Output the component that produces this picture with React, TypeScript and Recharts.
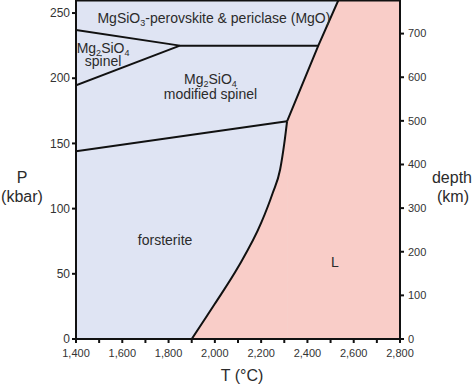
import React from 'react';
import {
  ComposedChart,
  XAxis,
  YAxis,
  Area,
  Line,
  ReferenceArea,
  ReferenceLine,
  ReferenceDot,
  Label,
} from 'recharts';

// ---- data ----
const tTicks = [1400, 1500, 1600, 1700, 1800, 1900, 2000, 2100, 2200, 2300, 2400, 2500, 2600, 2700, 2800];
const pTicks = [0, 50, 100, 150, 200, 250];
const depthTicks = [0, 100, 200, 300, 400, 500, 600, 700];

// melting curve (solid / liquid boundary), lower curved part
const meltLowT = [1900, 2000, 2100, 2200, 2250, 2282, 2300, 2312];
const meltLowP = [0, 27, 55, 89, 112, 130, 150, 167];
// melting curve, upper straight part
const meltHighT = [2312, 2447, 2534];
const meltHighP = [167, 225, 260];

// forsterite / modified spinel boundary
const foT = [1400, 2312];
const foP = [144, 167];

// spinel wedge boundaries
const spUpperT = [1400, 1849];
const spUpperP = [237, 225];
const spLowerT = [1400, 1849];
const spLowerP = [194.5, 225];

// perovskite + periclase boundary
const pvT = [1849, 2447];
const pvP = [225, 225];

const T_MIN = 1400;
const T_MAX = 2800;
const P_MAX = 260;
const DEPTH_MAX = 777;

const toPts = (ts: number[], ps: number[]) => ts.map((t, i) => ({ t, p: ps[i] }));

const liquidLow = toPts(meltLowT, meltLowP);
const liquidHigh = [...toPts(meltHighT, meltHighP), { t: T_MAX, p: P_MAX }];

const FONT = '"Liberation Sans", Arial, Helvetica, sans-serif';
const BLUE = '#dfe4f3';
const PINK = '#f9cdc8';
const TEXT = '#2b2b2b';

const regionText = (content: React.ReactNode) => (props: any) => (
  <text
    x={props.cx}
    y={props.cy}
    textAnchor="middle"
    fontFamily={FONT}
    fontSize={14}
    fill={TEXT}
  >
    {content}
  </text>
);

const Sub = ({ c }: { c: string }) => (
  <tspan fontSize={9} dy={3}>{c}</tspan>
);
const Up = ({ children }: { children: React.ReactNode }) => (
  <tspan dy={-3}>{children}</tspan>
);

const mg2sio4 = (
  <>
    Mg<Sub c="2" /><Up>SiO</Up><Sub c="4" />
  </>
);

const lineProps = {
  dataKey: 'p',
  dot: false,
  activeDot: false,
  stroke: '#111',
  strokeWidth: 2,
  isAnimationActive: false,
  yAxisId: 'left',
};

export default function App() {
  return (
    <div style={{ position: 'absolute', left: 0, top: 0, width: 474, height: 385 }}>
      <ComposedChart
        width={474}
        height={385}
        margin={{ top: 0, right: 0, bottom: 0, left: 0 }}
      >
        <XAxis
          type="number"
          dataKey="t"
          domain={[T_MIN, T_MAX]}
          ticks={tTicks}
          interval={0}
          allowDataOverflow
          tickFormatter={(v: number) => (v % 200 === 0 ? v.toLocaleString('en-US') : '')}
          height={46}
          tickSize={4}
          tickMargin={6}
          axisLine={{ stroke: '#111', strokeWidth: 2 }}
          tickLine={{ stroke: '#111', strokeWidth: 2 }}
          tick={{ fontSize: 11, fill: '#333', fontFamily: FONT }}
        >
          <Label
            content={(props: any) => {
              const vb = props.viewBox || {};
              return (
                <text
                  x={vb.x + 166}
                  y={vb.y + 42}
                  textAnchor="middle"
                  fontFamily={FONT}
                  fontSize={16}
                  fill={TEXT}
                >
                  T (°C)
                </text>
              );
            }}
          />
        </XAxis>
        <YAxis
          yAxisId="left"
          type="number"
          domain={[0, P_MAX]}
          ticks={pTicks}
          interval={0}
          allowDataOverflow
          width={76}
          tickSize={4}
          tickMargin={2}
          axisLine={{ stroke: '#111', strokeWidth: 2 }}
          tickLine={{ stroke: '#111', strokeWidth: 2 }}
          tick={{ fontSize: 12, fill: '#333', fontFamily: FONT }}
        >
          <Label
            content={(props: any) => {
              const vb = props.viewBox || {};
              return (
                <text textAnchor="middle" fontFamily={FONT} fontSize={16} fill={TEXT}>
                  <tspan x={vb.x + 22} y={vb.y + 183}>P</tspan>
                  <tspan x={vb.x + 22} y={vb.y + 202}>(kbar)</tspan>
                </text>
              );
            }}
          />
        </YAxis>
        <YAxis
          yAxisId="right"
          orientation="right"
          type="number"
          domain={[0, DEPTH_MAX]}
          ticks={depthTicks}
          interval={0}
          allowDataOverflow
          width={74}
          tickSize={4}
          tickMargin={4}
          axisLine={{ stroke: '#111', strokeWidth: 2 }}
          tickLine={{ stroke: '#111', strokeWidth: 2 }}
          tick={{ fontSize: 11, fill: '#333', fontFamily: FONT }}
        >
          <Label
            content={(props: any) => {
              const vb = props.viewBox || {};
              return (
                <text textAnchor="middle" fontFamily={FONT} fontSize={16} fill={TEXT}>
                  <tspan x={vb.x + 52} y={vb.y + 183}>depth</tspan>
                  <tspan x={vb.x + 53} y={vb.y + 202}>(km)</tspan>
                </text>
              );
            }}
          />
        </YAxis>

        <ReferenceArea
          yAxisId="left"
          x1={T_MIN}
          x2={T_MAX}
          y1={0}
          y2={P_MAX}
          fill={BLUE}
          fillOpacity={1}
          stroke="none"
          ifOverflow="visible"
        />

        <Area
          data={liquidLow}
          yAxisId="left"
          type="monotone"
          dataKey="p"
          fill={PINK}
          fillOpacity={1}
          stroke={PINK}
          strokeWidth={1}
          isAnimationActive={false}
          activeDot={false}
        />
        <Area
          data={liquidHigh}
          yAxisId="left"
          type="linear"
          dataKey="p"
          fill={PINK}
          fillOpacity={1}
          stroke="none"
          isAnimationActive={false}
          activeDot={false}
        />

        <Line data={toPts(meltLowT, meltLowP)} type="monotone" {...lineProps} />
        <Line data={toPts(meltHighT, meltHighP)} type="linear" {...lineProps} />
        <Line data={toPts(foT, foP)} type="linear" {...lineProps} />
        <Line data={toPts(spUpperT, spUpperP)} type="linear" {...lineProps} />
        <Line data={toPts(spLowerT, spLowerP)} type="linear" {...lineProps} />
        <Line data={toPts(pvT, pvP)} type="linear" {...lineProps} />

        <ReferenceLine yAxisId="left" y={P_MAX} stroke="#111" strokeWidth={3} ifOverflow="visible" />

        <ReferenceDot
          yAxisId="left"
          x={1996}
          y={242}
          r={0}
          ifOverflow="visible"
          shape={regionText(
            <>
              MgSiO<Sub c="3" /><Up>-perovskite &amp; periclase (MgO)</Up>
            </>
          )}
        />
        <ReferenceDot yAxisId="left" x={1517} y={219.5} r={0} ifOverflow="visible" shape={regionText(mg2sio4)} />
        <ReferenceDot yAxisId="left" x={1517} y={209} r={0} ifOverflow="visible" shape={regionText('spinel')} />
        <ReferenceDot yAxisId="left" x={1981} y={195.5} r={0} ifOverflow="visible" shape={regionText(mg2sio4)} />
        <ReferenceDot yAxisId="left" x={1981} y={184} r={0} ifOverflow="visible" shape={regionText('modified spinel')} />
        <ReferenceDot yAxisId="left" x={1785} y={72} r={0} ifOverflow="visible" shape={regionText('forsterite')} />
        <ReferenceDot yAxisId="left" x={2519} y={55} r={0} ifOverflow="visible" shape={regionText('L')} />
      </ComposedChart>
    </div>
  );
}
